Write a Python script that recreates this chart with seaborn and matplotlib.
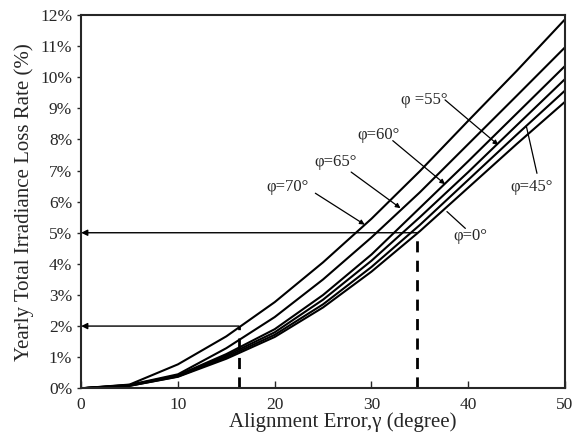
import pandas as pd
import seaborn as sns
import matplotlib.pyplot as plt

# alignment error (degree) and yearly loss rate (%) for each latitude
gamma = [0, 5, 10, 15, 20, 25, 30, 35, 40, 45, 50]
loss_phi70 = [0, 0.12, 0.77, 1.67, 2.77, 4.05, 5.45, 6.98, 8.60, 10.20, 11.86]
loss_phi65 = [0, 0.11, 0.45, 1.29, 2.29, 3.50, 4.85, 6.30, 7.85, 9.40, 10.96]
loss_phi60 = [0, 0.10, 0.42, 1.10, 1.90, 3.00, 4.30, 5.80, 7.30, 8.83, 10.36]
loss_phi55 = [0, 0.09, 0.40, 1.05, 1.80, 2.85, 4.10, 5.50, 6.95, 8.45, 9.94]
loss_phi45 = [0, 0.08, 0.38, 1.00, 1.72, 2.70, 3.90, 5.25, 6.70, 8.15, 9.57]
loss_phi0 = [0, 0.08, 0.37, 0.95, 1.65, 2.60, 3.75, 5.05, 6.45, 7.85, 9.21]

series = {'70': loss_phi70, '65': loss_phi65, '60': loss_phi60,
          '55': loss_phi55, '45': loss_phi45, '0': loss_phi0}

# reading guides: (gamma, loss)
guide_low = (16.3, 2)
guide_high = (34.7, 5)

yticks = list(range(0, 13))
xticks = [0, 10, 20, 30, 40, 50]

rows = []
for phi, vals in series.items():
    for g, v in zip(gamma, vals):
        rows.append({'gamma': g, 'loss': v, 'phi': phi})
df = pd.DataFrame(rows)

sns.set_style('ticks')
plt.rcParams['font.family'] = ['Liberation Serif', 'DejaVu Serif']

fig = plt.figure(figsize=(5.84, 4.4), dpi=100)
ax = fig.add_axes([0.139, 0.1175, 0.8285, 0.8485])

sns.lineplot(data=df, x='gamma', y='loss', hue='phi', palette=['black'] * 6,
             linewidth=1.5, legend=False, ax=ax)

# guide arrows and dashed drop lines
for gx, gy in (guide_low, guide_high):
    ax.annotate('', xy=(0, gy), xytext=(gx, gy),
                arrowprops=dict(arrowstyle='-|>', lw=1, color='black',
                                mutation_scale=9, shrinkA=0, shrinkB=0))
    ax.plot([gx, gx], [0, gy], color='black', lw=2, dashes=(4, 3))

# curve labels: text, text position, line start, line end, arrowhead?
labels = [
    ('φ=70°', (21.3, 6.46), (24.2, 6.27), (29.3, 5.26), True),
    ('φ=65°', (26.3, 7.26), (27.9, 6.95), (33.0, 5.79), True),
    ('φ=60°', (30.7, 8.14), (32.2, 7.96), (37.6, 6.56), True),
    ('φ =55°', (35.5, 9.27), (37.6, 9.27), (43.1, 7.82), True),
    ('φ=45°', (46.6, 6.46), (47.1, 6.91), (46.0, 8.43), False),
    ('φ=0°', (40.2, 4.88), (39.7, 5.14), (37.8, 5.68), False),
]
for txt, tpos, start, end, head in labels:
    ax.text(tpos[0], tpos[1], txt, ha='center', va='center', fontsize=12)
    style = '-|>' if head else '-'
    ax.annotate('', xy=end, xytext=start,
                arrowprops=dict(arrowstyle=style, lw=0.9, color='black',
                                mutation_scale=7, shrinkA=0, shrinkB=0))

ax.set_xlim(0, 50)
ax.set_ylim(0, 12)
ax.set_xticks(xticks)
ax.set_yticks(yticks)
ax.set_yticklabels([f'{t}%' for t in yticks])
ax.tick_params(axis='x', direction='in', length=5, width=1, labelsize=12.5, pad=6)
ax.tick_params(axis='y', direction='out', length=3, width=1, labelsize=12.5)
for s in ax.spines.values():
    s.set_linewidth(1.5)
    s.set_visible(True)

ax.set_xlabel('Alignment Error,γ (degree)', fontsize=15, labelpad=0)
ax.xaxis.label.set_x(0.54)
ax.set_ylabel('Yearly Total Irradiance Loss Rate (%)', fontsize=15, labelpad=4)

fig.savefig('out.png', dpi=100)
